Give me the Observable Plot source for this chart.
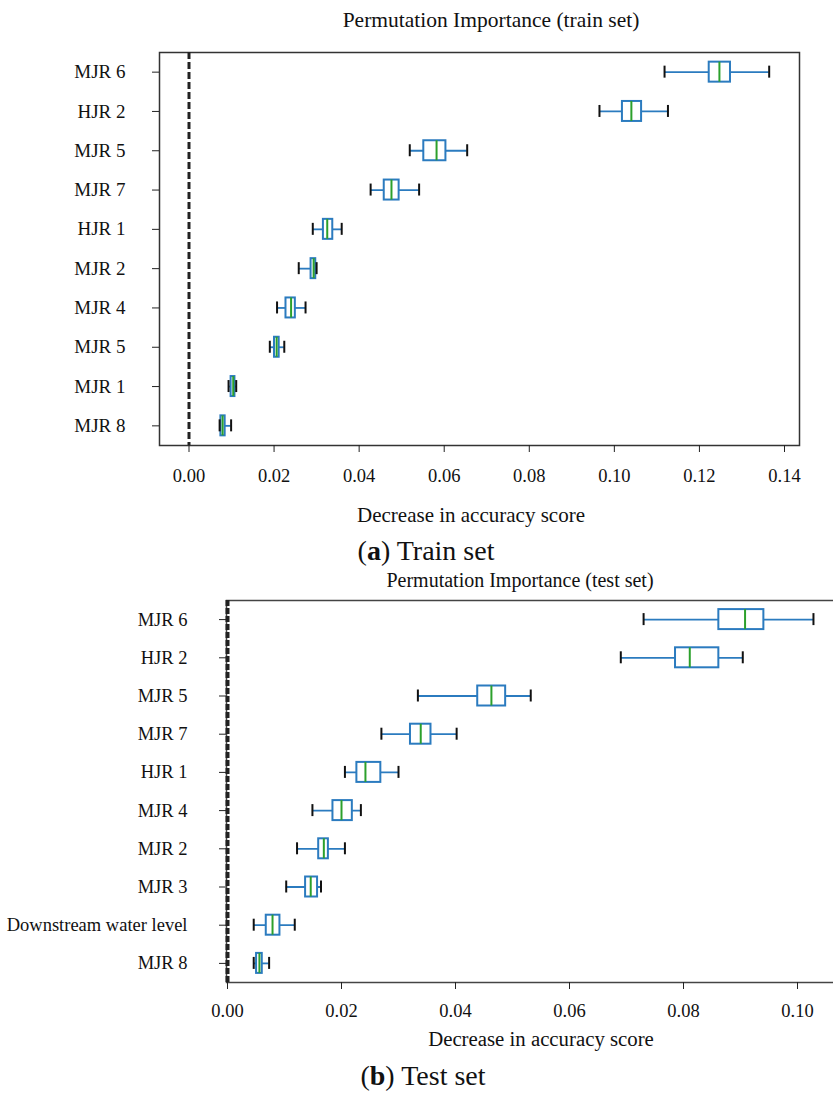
<!DOCTYPE html>
<html>
<head>
<meta charset="utf-8">
<script src="https://cdn.jsdelivr.net/npm/d3@7"></script>
<script src="https://cdn.jsdelivr.net/npm/@observablehq/plot@0.6"></script>
<style>
  html, body { margin: 0; padding: 0; background: #fff; }
  #page { position: relative; width: 833px; height: 1099px; overflow: hidden; background: #fff; font-family: "Liberation Serif", "Times New Roman", serif; color: #111; }
  .t { position: absolute; white-space: nowrap; line-height: 1; transform: translateX(-50%); }
  .chart { position: absolute; left: 0; max-width: none !important; }
</style>
</head>
<body>
<div id="page"></div>
<script>
// ---------- DATA ----------
const trainLabels = ["MJR 6","HJR 2","MJR 5","MJR 7","HJR 1","MJR 2","MJR 4","MJR 5","MJR 1","MJR 8"];
const trainWhiskerLow  = [0.1118,0.0965,0.0519,0.0427,0.0291,0.0258,0.0207,0.0190,0.0093,0.0072];
const trainQ1          = [0.1223,0.1019,0.0552,0.0459,0.0316,0.0287,0.0228,0.0201,0.0099,0.0075];
const trainMedian      = [0.1247,0.1040,0.0582,0.0476,0.0325,0.0293,0.0240,0.0206,0.0104,0.0079];
const trainQ3          = [0.1273,0.1064,0.0604,0.0494,0.0338,0.0298,0.0250,0.0212,0.0108,0.0085];
const trainWhiskerHigh = [0.1364,0.1126,0.0654,0.0541,0.0359,0.0300,0.0274,0.0224,0.0111,0.0099];
const trainTicks = [0, 0.02, 0.04, 0.06, 0.08, 0.10, 0.12, 0.14];

const testLabels = ["MJR 6","HJR 2","MJR 5","MJR 7","HJR 1","MJR 4","MJR 2","MJR 3","Downstream water level","MJR 8"];
const testWhiskerLow  = [0.0730,0.0690,0.0334,0.0270,0.0206,0.0149,0.0122,0.0103,0.0046,0.0046];
const testQ1          = [0.0862,0.0786,0.0439,0.0321,0.0227,0.0185,0.0160,0.0137,0.0068,0.0051];
const testMedian      = [0.0908,0.0811,0.0463,0.0339,0.0242,0.0200,0.0169,0.0146,0.0079,0.0056];
const testQ3          = [0.0941,0.0862,0.0488,0.0357,0.0269,0.0219,0.0177,0.0158,0.0092,0.0061];
const testWhiskerHigh = [0.1028,0.0904,0.0532,0.0402,0.0300,0.0234,0.0206,0.0164,0.0118,0.0073];
const testTicks = [0, 0.02, 0.04, 0.06, 0.08, 0.10];

const BLUE = "#2b7bbf", GREEN = "#2ca02c", CAP = "#111";

function rows(labels, lo, q1, med, q3, hi) {
  return labels.map((l, i) => ({i, label: l, lo: lo[i], q1: q1[i], med: med[i], q3: q3[i], hi: hi[i]}));
}

function boxChart(o) {
  const data = rows(o.labels, o.lo, o.q1, o.med, o.q3, o.hi);
  const step = (o.yRange[1] - o.yRange[0]) / data.length;
  const boxInset = (step - o.boxH) / 2;
  const capInset = (step - o.capH) / 2;
  return Plot.plot({
    width: o.width, height: o.height,
    marginTop: o.mt, marginBottom: o.mb, marginLeft: o.ml, marginRight: o.mr,
    style: {fontFamily: "Liberation Serif", color: "#111", background: "white", overflow: "visible", maxWidth: "none"},
    x: {domain: o.xDomain},
    y: {type: "band", domain: data.map(d => d.i), range: o.yRange, padding: 0, round: false},
    marks: [
      Plot.frame({stroke: o.frameColor, strokeWidth: 1.5}),
      Plot.ruleX([0], {stroke: "#222", strokeWidth: o.dashW, strokeDasharray: o.dash}),
      Plot.ruleY(data, {y: "i", x1: "lo", x2: "hi", stroke: BLUE, strokeWidth: 1.8}),
      Plot.barX(data, {y: "i", x1: "q1", x2: "q3", fill: "white", stroke: BLUE, strokeWidth: 2, insetTop: boxInset, insetBottom: boxInset}),
      Plot.tickX(data, {y: "i", x: "med", stroke: GREEN, strokeWidth: 2, insetTop: boxInset, insetBottom: boxInset}),
      Plot.tickX(data, {y: "i", x: "lo", stroke: CAP, strokeWidth: 2, insetTop: capInset, insetBottom: capInset}),
      Plot.tickX(data, {y: "i", x: "hi", stroke: CAP, strokeWidth: 2, insetTop: capInset, insetBottom: capInset}),
      Plot.axisX({ticks: o.ticks, tickFormat: d => d.toFixed(2), tickSize: 7, tickPadding: o.xPad, fontSize: o.xFont, label: null, stroke: "#222"}),
      Plot.axisY({tickFormat: i => o.labels[i], tickSize: 7, tickPadding: o.yPad, fontSize: o.yFont, label: null, stroke: "#222"})
    ]
  });
}

const page = document.getElementById("page");

function addText(html, cx, baseline, size, extra) {
  const d = document.createElement("div");
  d.className = "t";
  d.innerHTML = html;
  d.style.left = cx + "px";
  d.style.fontSize = size + "px";
  d.style.top = (baseline - 0.8375 * size) + "px";
  if (extra) Object.assign(d.style, extra);
  page.appendChild(d);
}

// ---------- TOP: train set ----------
const z1 = 188.5, k1 = (784 - 188.5) / 0.14;
const trainChart = boxChart({
  labels: trainLabels, lo: trainWhiskerLow, q1: trainQ1, med: trainMedian, q3: trainQ3, hi: trainWhiskerHigh,
  ticks: trainTicks,
  width: 833, height: 500, mt: 52, mb: 55, ml: 159, mr: 34,
  xDomain: [-(z1 - 159) / k1, (799 - z1) / k1],
  yRange: [52, 445], boxH: 20, capH: 12,
  frameColor: "#333", dash: "7,3", dashW: 3,
  xPad: 16, xFont: 18.5, yPad: 27, yFont: 19
});
trainChart.classList.add("chart");
trainChart.style.top = "0px";
page.appendChild(trainChart);

// ---------- BOTTOM: test set ----------
const z2 = 227, k2 = (797 - 227) / 0.10;
const testChart = boxChart({
  labels: testLabels, lo: testWhiskerLow, q1: testQ1, med: testMedian, q3: testQ3, hi: testWhiskerHigh,
  ticks: testTicks,
  width: 840, height: 470, mt: 40, mb: 48, ml: 226, mr: 4,
  xDomain: [-(z2 - 226) / k2, (836 - z2) / k2],
  yRange: [40, 422], boxH: 20, capH: 12,
  frameColor: "#444", dash: "6,2", dashW: 4,
  xPad: 14, xFont: 18.5, yPad: 32, yFont: 18.5
});
testChart.classList.add("chart");
testChart.style.top = "560px";
page.appendChild(testChart);

// ---------- TEXTS ----------
addText("Permutation Importance (train set)", 491, 28, 21.5);
addText("Decrease in accuracy score", 471, 523, 21);
addText("(<b>a</b>) Train set", 426, 560, 28);
addText("Permutation Importance (test set)", 520, 587, 20);
addText("Decrease in accuracy score", 541, 1046, 20.8);
addText("(<b>b</b>) Test set", 423, 1085, 28);
</script>
</body>
</html>
